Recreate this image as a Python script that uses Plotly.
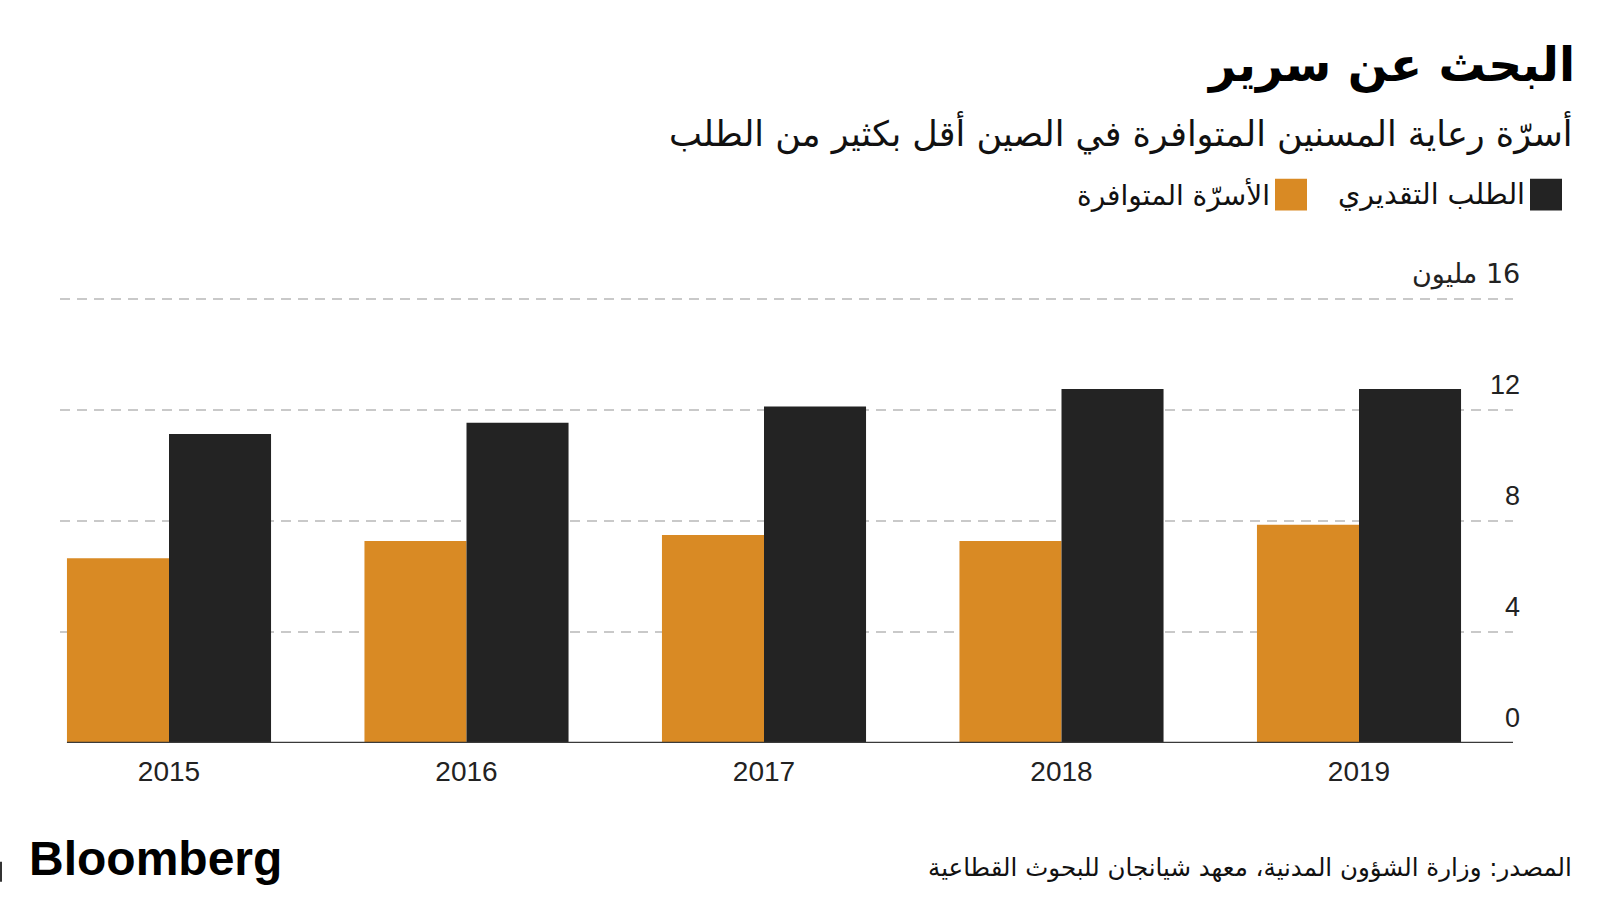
import plotly.graph_objects as go

# ---- data ----
years = [2015, 2016, 2017, 2018, 2019]
year_labels = ["2015", "2016", "2017", "2018", "2019"]
available_beds = [6.65, 7.27, 7.49, 7.27, 7.86]      # الأسرّة المتوافرة (million)
estimated_demand = [11.12, 11.53, 12.11, 12.74, 12.74]  # الطلب التقديري (million)
y_ticks = [0, 4, 8, 12, 16]
y_tick_labels = ["0", "4", "8", "12", "\u200f16 مليون"]

title = "البحث عن سرير"
subtitle = "أسرّة رعاية المسنين المتوافرة في الصين أقل بكثير من الطلب"
legend_demand = "الطلب التقديري"
legend_available = "الأسرّة المتوافرة"
source = "المصدر: وزارة الشؤون المدنية، معهد شيانجان للبحوث القطاعية"

ORANGE = "#D98A24"
BLACK = "#232323"
AR_FONT = "DejaVu Sans"
NUM_FONT = "Liberation Sans, Arial, sans-serif"

# ---- layout geometry (pixels) ----
W_FIG, H_FIG = 1600, 900
L, R, B = 60, 1513, 743
PX_PER_UNIT = 445 / 16
Y_TOP = 16 + 1.5 / PX_PER_UNIT          # a little headroom so the 16 gridline is drawn
T = B - Y_TOP * PX_PER_UNIT
PW, PH = R - L, B - T


def px(x):
    return (x - L) / PW


def py(y):
    return (B - y) / PH


fig = go.Figure()
fig.add_trace(go.Bar(x=years, y=available_beds, name=legend_available,
                     marker=dict(color=ORANGE, line=dict(width=0)), showlegend=False))
fig.add_trace(go.Bar(x=years, y=estimated_demand, name=legend_demand,
                     marker=dict(color=BLACK, line=dict(width=0)), showlegend=False))

x_min = 2015 - 109 / 297.5
x_max = 2019 + 154 / 297.5
bargap = 0.314

fig.update_layout(
    width=W_FIG, height=H_FIG,
    margin=dict(l=L, r=W_FIG - R, t=T, b=H_FIG - B, pad=0),
    paper_bgcolor="white", plot_bgcolor="white",
    barmode="group", bargap=bargap, bargroupgap=0,
    xaxis=dict(range=[x_min, x_max], tickvals=years, ticktext=year_labels,
               showgrid=False, zeroline=False, showline=False, ticks="",
               tickfont=dict(family=NUM_FONT, size=28, color="#222"),
               ticklabelstandoff=9, fixedrange=True),
    yaxis=dict(range=[0, Y_TOP], tickvals=y_ticks, showticklabels=False,
               showgrid=True, gridcolor="#c9c9c9", gridwidth=1.5, griddash="10px,7px",
               zeroline=False, showline=False, ticks="", fixedrange=True),
    font=dict(family=AR_FONT),
)

# baseline
bar_w = (1 - bargap) / 2
fig.add_shape(type="line", xref="x", yref="y", x0=2015 - bar_w, x1=x_max, y0=0, y1=0,
              line=dict(color="#3a3a3a", width=2.5), layer="above")

# y tick labels above gridlines, right aligned
for v, lab in zip(y_ticks, y_tick_labels):
    fig.add_annotation(x=px(1522), xref="paper", y=v, yref="y", text=lab,
                       showarrow=False, xanchor="right", yanchor="middle", yshift=25,
                       font=dict(family=NUM_FONT if v != 16 else AR_FONT, size=27, color="#222"))

# title, subtitle
fig.add_annotation(x=px(1577), y=py(64), xref="paper", yref="paper", text="<b>" + title + "</b>",
                   showarrow=False, xanchor="right", yanchor="middle",
                   font=dict(family=AR_FONT, size=47, color="#000"))
fig.add_annotation(x=px(1575), y=py(132), xref="paper", yref="paper", text=subtitle,
                   showarrow=False, xanchor="right", yanchor="middle",
                   font=dict(family=AR_FONT, size=35, color="#111"))

# legend
fig.add_shape(type="rect", xref="paper", yref="paper", x0=px(1530), x1=px(1562), y0=py(210), y1=py(178),
              fillcolor=BLACK, line=dict(width=0))
fig.add_shape(type="rect", xref="paper", yref="paper", x0=px(1275), x1=px(1307), y0=py(210), y1=py(178),
              fillcolor=ORANGE, line=dict(width=0))
fig.add_annotation(x=px(1527), y=py(194), xref="paper", yref="paper", text=legend_demand,
                   showarrow=False, xanchor="right", yanchor="middle",
                   font=dict(family=AR_FONT, size=28.5, color="#111"))
fig.add_annotation(x=px(1272), y=py(194), xref="paper", yref="paper", text=legend_available,
                   showarrow=False, xanchor="right", yanchor="middle",
                   font=dict(family=AR_FONT, size=28, color="#111"))

# footer
fig.add_annotation(x=px(27), y=py(859), xref="paper", yref="paper", text="<b>Bloomberg</b>",
                   showarrow=False, xanchor="left", yanchor="middle",
                   font=dict(family=NUM_FONT, size=48, color="#000"))
fig.add_annotation(x=px(1574), y=py(868), xref="paper", yref="paper", text=source,
                   showarrow=False, xanchor="right", yanchor="middle",
                   font=dict(family=AR_FONT, size=24.5, color="#111"))
fig.add_shape(type="rect", xref="paper", yref="paper", x0=px(0), x1=px(2), y0=py(882), y1=py(862),
              fillcolor="#333", line=dict(width=0))

fig.write_html("out.html", config={"displayModeBar": False},
               post_script="document.body.style.margin='0';document.body.style.overflow='hidden';")
